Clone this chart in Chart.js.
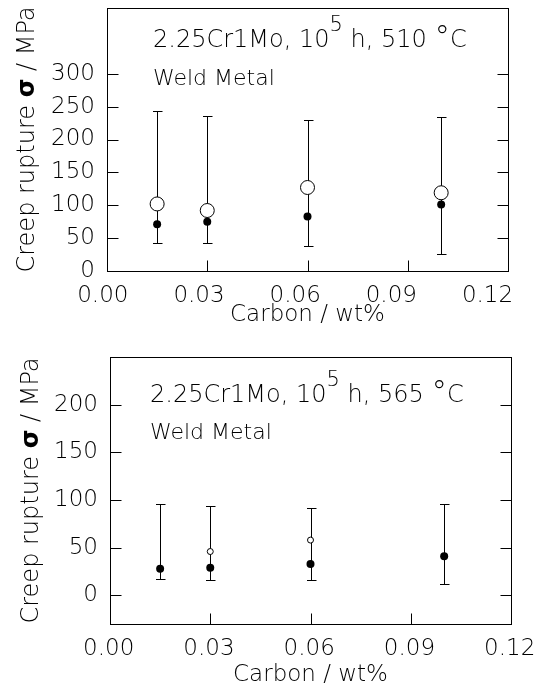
<!DOCTYPE html>
<html>
<head>
<meta charset="utf-8">
<script src="https://cdn.jsdelivr.net/npm/chart.js@4.4.0/dist/chart.umd.min.js"></script>
<style>
  html, body { margin: 0; padding: 0; background: #fff; overflow: hidden; }
  canvas { position: absolute; left: 0; }
</style>
</head>
<body>
<canvas id="canvas1" width="541" height="330" style="top:0px"></canvas>
<canvas id="canvas2" width="541" height="357" style="top:330px"></canvas>
<script>
// values
const carbon = [0.015, 0.03, 0.06, 0.10];

// 510 oC
const filled510 = [71, 75, 83, 101];
const open510 = [102, 92, 127, 119];
const upper510 = [244, 235, 229, 234];
const lower510 = [42, 42, 38, 26];

// 565 oC
const filled565 = [28, 29, 33, 41];
const openCarbon565 = [0.03, 0.06];
const open565 = [46, 58];
const upper565 = [96, 94, 92, 96];
const lower565 = [17, 16, 16, 12];

const xTicks = [0, 0.03, 0.06, 0.09, 0.12];
const yTicks510 = [0, 50, 100, 150, 200, 250, 300];
const yTicks565 = [0, 50, 100, 150, 200];

const FAMILY = "'DejaVu Sans', sans-serif";
const WEIGHT = '200';
const FS = 23;

function fnt(size, weight) {
  return (weight || WEIGHT) + ' ' + size + 'px ' + FAMILY;
}

// error bars, frame, inside ticks, annotation and y title
const framePlugin = {
  id: 'frame',
  beforeDatasetsDraw(chart) {
    const o = chart.options.plugins.frame;
    const ctx = chart.ctx, x = chart.scales.x, y = chart.scales.y;
    ctx.save();
    ctx.strokeStyle = '#000';
    ctx.lineWidth = 1;
    o.xs.forEach((c, i) => {
      const px = Math.round(x.getPixelForValue(c)) + 0.5;
      const top = Math.round(y.getPixelForValue(o.upper[i])) + 0.5;
      const bot = Math.round(y.getPixelForValue(o.lower[i])) + 0.5;
      ctx.beginPath();
      ctx.moveTo(px, top); ctx.lineTo(px, bot);
      ctx.moveTo(px - 4.5, top); ctx.lineTo(px + 5, top);
      ctx.moveTo(px - 4.5, bot); ctx.lineTo(px + 5, bot);
      ctx.stroke();
    });
    ctx.restore();
  },
  afterDraw(chart) {
    const o = chart.options.plugins.frame;
    const ctx = chart.ctx, a = chart.chartArea, x = chart.scales.x, y = chart.scales.y;
    ctx.save();
    ctx.strokeStyle = '#000';
    ctx.lineWidth = 1;
    const L = Math.round(a.left) + 0.5, R = Math.round(a.right) + 0.5;
    const T = Math.round(a.top) + 0.5, B = Math.round(a.bottom) + 0.5;
    ctx.strokeRect(L, T, R - L, B - T);
    const tl = 11;
    ctx.beginPath();
    o.yTicks.forEach(v => {
      if (v <= y.min || v >= y.max) return;
      const py = Math.round(y.getPixelForValue(v)) + 0.5;
      ctx.moveTo(L, py); ctx.lineTo(L + tl, py);
      ctx.moveTo(R, py); ctx.lineTo(R - tl, py);
    });
    xTicks.forEach(v => {
      if (v <= x.min || v >= x.max) return;
      const px = Math.round(x.getPixelForValue(v)) + 0.5;
      ctx.moveTo(px, B); ctx.lineTo(px, B - tl);
    });
    ctx.stroke();

    // annotation
    ctx.fillStyle = '#000';
    ctx.textBaseline = 'alphabetic';
    ctx.textAlign = 'left';
    let cx = a.left + o.annot.dx;
    const by = a.top + o.annot.dy1;
    const parts = [
      { t: '2.25Cr1Mo, 10', s: 24, r: 0 },
      { t: '5', s: 21, r: 16 },
      { t: ' h, ' + o.annot.temp + ' ', s: 24, r: 0 },
      { t: '°', s: 31, r: 0 },
      { t: 'C', s: 24, r: 0 }
    ];
    parts.forEach(p => {
      ctx.font = fnt(p.s);
      ctx.fillText(p.t, cx, by - p.r);
      cx += ctx.measureText(p.t).width;
    });
    ctx.font = fnt(22);
    ctx.fillText('Weld Metal', a.left + o.annot.dx, a.top + o.annot.dy2);

    // y title with bold sigma
    const segs = [
      { t: 'Creep rupture ', w: WEIGHT },
      { t: 'σ', w: 'bold' },
      { t: ' / MPa', w: WEIGHT }
    ];
    let total = 0;
    segs.forEach(sg => { ctx.font = fnt(24, sg.w); sg.width = ctx.measureText(sg.t).width; total += sg.width; });
    ctx.translate(o.titleX, (a.top + a.bottom) / 2);
    ctx.rotate(-Math.PI / 2);
    ctx.textBaseline = 'middle';
    let sx = -total / 2;
    segs.forEach(sg => { ctx.font = fnt(24, sg.w); ctx.fillText(sg.t, sx, 0); sx += sg.width; });
    ctx.restore();
  }
};

function makeChart(id, cfg) {
  const ctx = document.getElementById(id).getContext('2d');
  return new Chart(ctx, {
    type: 'scatter',
    data: {
      datasets: [
        {
          label: 'filled',
          data: carbon.map((c, i) => ({ x: c, y: cfg.filled[i] })),
          backgroundColor: '#000',
          borderColor: '#000',
          pointRadius: cfg.filledR,
          pointBorderWidth: 0
        },
        {
          label: 'open',
          data: cfg.openX.map((c, i) => ({ x: c, y: cfg.open[i] })),
          backgroundColor: '#fff',
          borderColor: '#000',
          pointRadius: cfg.openR,
          pointBorderWidth: 1
        }
      ]
    },
    options: {
      responsive: false,
      animation: false,
      events: [],
      layout: { padding: cfg.padding },
      plugins: {
        legend: { display: false },
        tooltip: { enabled: false },
        frame: {
          xs: carbon, upper: cfg.upper, lower: cfg.lower, yTicks: cfg.yTicks,
          annot: cfg.annot, titleX: cfg.titleX
        }
      },
      scales: {
        // data axis (drawn by the frame plugin)
        x: {
          type: 'linear',
          display: false,
          min: 0,
          max: 0.12
        },
        // label axis: the original's tick labels sit slightly off the tick marks
        xl: {
          type: 'linear',
          position: 'bottom',
          min: cfg.labelRange[0],
          max: cfg.labelRange[1],
          afterBuildTicks: s => { s.ticks = xTicks.map(v => ({ value: v })); },
          afterFit: s => { s.height = cfg.xHeight; s.paddingLeft = 0; s.paddingRight = 0; },
          grid: { display: false, drawTicks: false },
          border: { display: false },
          ticks: {
            color: '#000',
            padding: 11,
            maxRotation: 0,
            font: { family: FAMILY, size: FS, weight: WEIGHT },
            callback: v => v.toFixed(2)
          },
          title: {
            display: true,
            text: 'Carbon / wt%',
            color: '#000',
            padding: { top: 0, bottom: cfg.xTitlePad },
            font: { family: FAMILY, size: FS, weight: WEIGHT, lineHeight: 1 }
          }
        },
        y: {
          min: cfg.yMin,
          max: cfg.yMax,
          afterBuildTicks: s => { s.ticks = cfg.yTicks.map(v => ({ value: v })); },
          afterFit: s => { s.width = cfg.yWidth; s.paddingTop = 0; s.paddingBottom = 0; },
          grid: { display: false, drawTicks: false },
          border: { display: false },
          ticks: {
            color: '#000',
            padding: 12,
            font: { family: FAMILY, size: FS, weight: WEIGHT }
          }
        }
      }
    },
    plugins: [framePlugin]
  });
}

makeChart('canvas1', {
  filled: filled510, openX: carbon, open: open510,
  upper: upper510, lower: lower510, yTicks: yTicks510,
  yMin: 0, yMax: 400, filledR: 4, openR: 7,
  labelRange: [0.0013, 0.1264],
  padding: { top: 3, right: 33, left: 0, bottom: 0 },
  xHeight: 59, xTitlePad: 3, yWidth: 107, titleX: 28,
  annot: { dx: 46, dy1: 39, dy2: 77, temp: '510' }
});

makeChart('canvas2', {
  filled: filled565, openX: openCarbon565, open: open565,
  upper: upper565, lower: lower565, yTicks: yTicks565,
  yMin: -30, yMax: 250, filledR: 4, openR: 3,
  labelRange: [0.0004, 0.1204],
  padding: { top: 27, right: 30, left: 0, bottom: 0 },
  xHeight: 63, xTitlePad: 0, yWidth: 110, titleX: 32,
  annot: { dx: 40, dy1: 45, dy2: 82, temp: '565' }
});
</script>
</body>
</html>
